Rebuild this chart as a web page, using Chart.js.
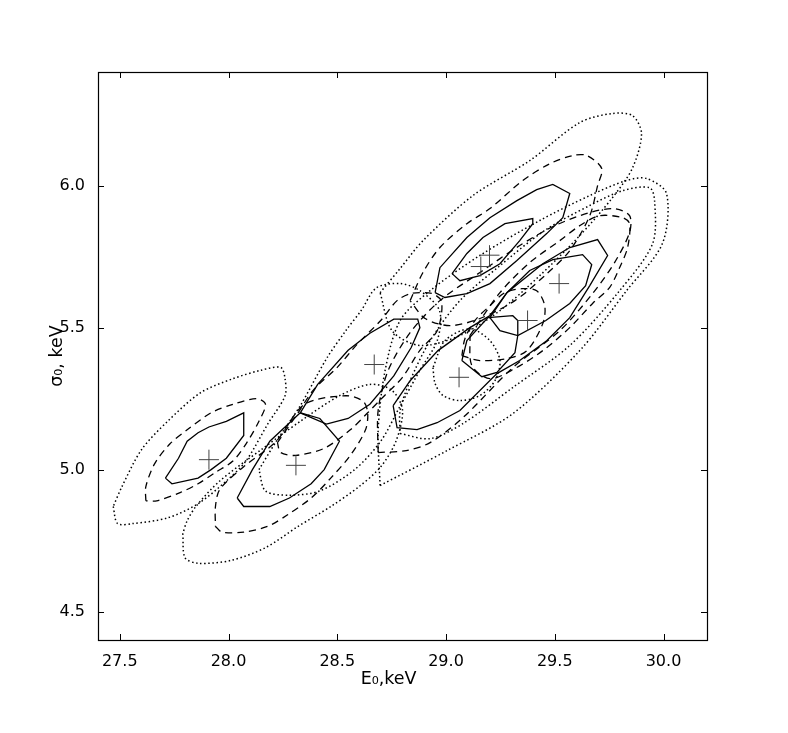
<!DOCTYPE html>
<html>
<head>
<meta charset="utf-8">
<script src="https://cdn.jsdelivr.net/npm/chart.js@4.4.1/dist/chart.umd.min.js"></script>
<style>
  html, body { margin: 0; padding: 0; background: #fff; }
  #wrap { width: 788px; height: 733px; }
</style>
</head>
<body>
<div id="wrap"><canvas id="myChart" width="788" height="733"></canvas></div>
<script>
// axis ticks
const xTicks = [27.5, 28.0, 28.5, 29.0, 29.5, 30.0];
const yTicks = [4.5, 5.0, 5.5, 6.0];

// best fit points (E0, sigma0)
const bestE = [27.91, 28.31, 28.67, 29.06, 29.16, 29.20, 29.375, 29.52];
const bestS = [5.035, 5.015, 5.37, 5.325, 5.715, 5.755, 5.525, 5.655];

// contours, [E0, sigma0] vertices
const g1Solid = [[27.71,4.97],[27.74,4.95],[27.86,4.97],[27.92,5.00],[27.99,5.04],[28.07,5.12],[28.07,5.20],[27.99,5.17],[27.91,5.15],[27.86,5.13],[27.81,5.10],[27.77,5.04]];
const g1Dash = [[27.62,4.89],[27.62,4.94],[27.66,5.02],[27.73,5.09],[27.81,5.14],[27.92,5.20],[28.02,5.23],[28.13,5.25],[28.17,5.23],[28.14,5.17],[28.08,5.09],[28.02,5.03],[27.94,4.99],[27.86,4.95],[27.78,4.92],[27.67,4.89]];
const g1Dot = [[27.47,4.87],[27.49,4.81],[27.56,4.81],[27.72,4.83],[27.86,4.88],[27.99,4.96],[28.08,5.03],[28.18,5.16],[28.26,5.26],[28.26,5.32],[28.24,5.36],[28.15,5.35],[28.02,5.32],[27.87,5.27],[27.72,5.17],[27.60,5.07],[27.51,4.94]];

const g2Solid = [[28.04,4.90],[28.07,4.87],[28.19,4.87],[28.28,4.90],[28.38,4.95],[28.44,5.00],[28.51,5.10],[28.42,5.18],[28.33,5.20],[28.19,5.10],[28.11,5.00]];
const g2Dash = [[27.94,4.80],[27.97,4.78],[28.07,4.78],[28.18,4.80],[28.27,4.84],[28.38,4.90],[28.47,4.97],[28.56,5.05],[28.63,5.14],[28.64,5.20],[28.62,5.24],[28.54,5.26],[28.35,5.23],[28.22,5.10],[28.07,5.01],[27.96,4.93],[27.94,4.87]];
const g2Dot = [[27.79,4.775],[27.80,4.69],[27.86,4.67],[28.01,4.68],[28.17,4.725],[28.32,4.80],[28.47,4.87],[28.60,4.94],[28.70,5.01],[28.77,5.10],[28.80,5.21],[28.75,5.28],[28.65,5.30],[28.51,5.26],[28.33,5.17],[28.15,5.07],[27.96,4.96],[27.85,4.87],[27.81,4.82]];

const g3Solid = [[28.33,5.20],[28.41,5.30],[28.55,5.42],[28.65,5.48],[28.76,5.53],[28.87,5.53],[28.88,5.50],[28.84,5.43],[28.76,5.33],[28.65,5.23],[28.55,5.18],[28.45,5.16]];
const g3Dash = [[28.225,5.095],[28.32,5.20],[28.39,5.28],[28.50,5.36],[28.59,5.44],[28.70,5.525],[28.775,5.595],[28.84,5.62],[28.935,5.62],[28.98,5.59],[28.96,5.49],[28.88,5.42],[28.80,5.325],[28.71,5.255],[28.64,5.20],[28.56,5.14],[28.44,5.075],[28.31,5.05],[28.24,5.06]];
const g3Dot = [[28.14,5.00],[28.22,5.10],[28.33,5.225],[28.45,5.39],[28.54,5.49],[28.61,5.56],[28.68,5.64],[28.79,5.655],[28.88,5.63],[28.97,5.56],[28.96,5.455],[28.88,5.35],[28.79,5.225],[28.70,5.10],[28.58,5.00],[28.42,4.925],[28.28,4.91],[28.17,4.925]];

const g4Solid = [[28.757,5.225],[28.775,5.148],[28.867,5.141],[28.959,5.165],[29.064,5.208],[29.234,5.338],[29.339,5.384],[29.463,5.454],[29.569,5.535],[29.661,5.648],[29.743,5.754],[29.697,5.810],[29.569,5.782],[29.445,5.725],[29.280,5.623],[29.202,5.542],[29.110,5.500],[28.963,5.419],[28.835,5.313]];
const g4Dash = [[28.688,5.060],[28.817,5.067],[28.927,5.095],[29.078,5.183],[29.307,5.359],[29.523,5.489],[29.674,5.620],[29.775,5.729],[29.844,5.835],[29.844,5.894],[29.775,5.919],[29.661,5.905],[29.500,5.859],[29.339,5.789],[29.156,5.694],[28.972,5.595],[28.835,5.482],[28.734,5.349],[28.688,5.208]];
const g4Dot = [[28.697,4.944],[29.005,5.067],[29.307,5.197],[29.615,5.419],[29.830,5.630],[29.995,5.796],[30.014,5.972],[29.922,6.025],[29.830,6.018],[29.661,5.965],[29.431,5.877],[29.156,5.754],[28.927,5.630],[28.789,5.525],[28.720,5.349],[28.688,5.137]];
const g4Inner = [[28.940,5.359],[28.950,5.303],[28.986,5.261],[29.064,5.243],[29.156,5.261],[29.225,5.313],[29.248,5.384],[29.202,5.454],[29.110,5.496],[28.995,5.454]];

const g5Inner = [[29.028,5.690],[29.064,5.665],[29.156,5.683],[29.248,5.725],[29.339,5.806],[29.399,5.866],[29.399,5.884],[29.271,5.866],[29.170,5.817],[29.096,5.761]];
const g5Solid = [[28.950,5.623],[28.995,5.606],[29.096,5.620],[29.202,5.655],[29.326,5.736],[29.463,5.831],[29.537,5.887],[29.569,5.972],[29.491,6.004],[29.417,5.986],[29.326,5.947],[29.202,5.887],[29.096,5.817],[28.972,5.711]];
const g5Dash = [[28.835,5.595],[28.894,5.694],[28.972,5.782],[29.096,5.866],[29.202,5.919],[29.353,6.018],[29.477,6.077],[29.583,6.106],[29.647,6.106],[29.716,6.060],[29.697,6.000],[29.661,5.894],[29.569,5.771],[29.454,5.683],[29.317,5.595],[29.156,5.532],[29.018,5.507],[28.904,5.532]];
const g5Dot = [[28.697,5.623],[28.789,5.708],[28.894,5.806],[29.124,5.965],[29.385,6.088],[29.615,6.222],[29.766,6.254],[29.858,6.246],[29.899,6.183],[29.858,6.063],[29.766,5.958],[29.615,5.824],[29.431,5.683],[29.248,5.560],[29.064,5.472],[28.881,5.437],[28.752,5.489]];

const g6Solid = [[29.202,5.535],[29.280,5.623],[29.385,5.701],[29.491,5.739],[29.628,5.757],[29.670,5.722],[29.642,5.648],[29.569,5.585],[29.459,5.525],[29.330,5.472],[29.248,5.489]];
const g6Dash = [[29.110,5.472],[29.248,5.623],[29.385,5.729],[29.523,5.806],[29.615,5.859],[29.706,5.894],[29.812,5.887],[29.844,5.866],[29.835,5.782],[29.798,5.711],[29.752,5.641],[29.674,5.585],[29.569,5.500],[29.445,5.419],[29.317,5.356],[29.202,5.320],[29.119,5.366]];
const g6Dot = [[28.789,5.127],[28.927,5.109],[29.078,5.162],[29.307,5.289],[29.569,5.437],[29.798,5.630],[29.950,5.796],[29.959,5.947],[29.936,5.993],[29.812,5.982],[29.661,5.930],[29.454,5.842],[29.248,5.718],[29.064,5.595],[28.927,5.454],[28.835,5.313],[28.789,5.208]];

const g7Solid = [[29.073,5.384],[29.165,5.327],[29.234,5.342],[29.317,5.412],[29.330,5.472],[29.330,5.525],[29.307,5.542],[29.193,5.535],[29.096,5.454]];
const g7Dash = [[29.073,5.401],[29.156,5.384],[29.280,5.391],[29.372,5.419],[29.445,5.514],[29.454,5.577],[29.417,5.630],[29.349,5.637],[29.271,5.623],[29.202,5.577],[29.133,5.525],[29.087,5.461]];

const SOLID = [], DASHED = [7, 5], DOTTED = [1.5, 2.6];

function contour(pts, dash) {
  return {
    type: 'scatter',
    showLine: true,
    data: pts.concat([pts[0]]).map(p => ({x: p[0], y: p[1]})),
    borderColor: '#000',
    borderWidth: dash === DOTTED ? 1.5 : 1.3,
    borderDash: dash,
    pointRadius: 0,
    fill: false,
    tension: dash === SOLID ? 0 : 0.3,
    order: 2
  };
}

const datasets = [
  contour(g1Dot, DOTTED), contour(g1Dash, DASHED), contour(g1Solid, SOLID),
  contour(g2Dot, DOTTED), contour(g2Dash, DASHED), contour(g2Solid, SOLID),
  contour(g3Dot, DOTTED), contour(g3Dash, DASHED), contour(g3Solid, SOLID),
  contour(g4Dot, DOTTED), contour(g4Dash, DASHED), contour(g4Solid, SOLID), contour(g4Inner, DOTTED),
  contour(g5Dot, DOTTED), contour(g5Dash, DASHED), contour(g5Solid, SOLID), contour(g5Inner, SOLID),
  contour(g6Dot, DOTTED), contour(g6Dash, DASHED), contour(g6Solid, SOLID),
  contour(g7Dash, DASHED), contour(g7Solid, SOLID),
  {
    type: 'scatter',
    data: bestE.map((e, i) => ({x: e, y: bestS[i]})),
    pointStyle: 'cross',
    pointRadius: 10,
    pointBorderWidth: 1,
    pointBorderColor: '#444',
    showLine: false,
    order: 1
  }
];

// matplotlib style frame with inward ticks
const frameTicks = {
  id: 'frameTicks',
  afterDraw(chart) {
    const {ctx, chartArea: a, scales} = chart;
    ctx.save();
    ctx.strokeStyle = '#000';
    ctx.lineWidth = 1;
    ctx.beginPath();
    xTicks.forEach(v => {
      const px = Math.round(scales.x.getPixelForValue(v)) + 0.5;
      ctx.moveTo(px, a.bottom); ctx.lineTo(px, a.bottom - 6);
      ctx.moveTo(px, a.top); ctx.lineTo(px, a.top + 6);
    });
    yTicks.forEach(v => {
      const py = Math.round(scales.y.getPixelForValue(v)) + 0.5;
      ctx.moveTo(a.left, py); ctx.lineTo(a.left + 6, py);
      ctx.moveTo(a.right, py); ctx.lineTo(a.right - 6, py);
    });
    ctx.stroke();
    ctx.lineWidth = 1.2;
    ctx.strokeRect(Math.round(a.left) + 0.5, Math.round(a.top) + 0.5,
      Math.round(a.right - a.left), Math.round(a.bottom - a.top));
    ctx.restore();
  }
};

const tickFont = {family: 'DejaVu Sans', size: 16};
const titleFont = {family: 'DejaVu Sans', size: 17.5};

new Chart(document.getElementById('myChart'), {
  type: 'scatter',
  data: {datasets},
  options: {
    responsive: false,
    animation: false,
    layout: {padding: {left: 0, top: 72, right: 81, bottom: 0}},
    plugins: {legend: {display: false}, tooltip: {enabled: false}},
    scales: {
      x: {
        type: 'linear', min: 27.4, max: 30.2,
        grid: {display: false}, border: {display: false},
        afterBuildTicks: s => { s.ticks = xTicks.map(v => ({value: v})); },
        afterFit: s => { s.height = 93; },
        ticks: {color: '#000', font: tickFont, padding: 4, maxRotation: 0,
                callback: v => v.toFixed(1)},
        title: {display: true, text: 'E₀,keV     ', color: '#000', font: titleFont,
                padding: {top: 0, bottom: 43}}
      },
      y: {
        type: 'linear', min: 4.4, max: 6.4,
        grid: {display: false}, border: {display: false},
        afterBuildTicks: s => { s.ticks = yTicks.map(v => ({value: v})); },
        afterFit: s => { s.width = 98; },
        ticks: {color: '#000', font: tickFont, padding: 5,
                callback: v => v.toFixed(1)},
        title: {display: true, text: 'σ₀, keV', color: '#000', font: titleFont,
                padding: {top: 47, bottom: 0}}
      }
    }
  },
  plugins: [frameTicks]
});
</script>
</body>
</html>
